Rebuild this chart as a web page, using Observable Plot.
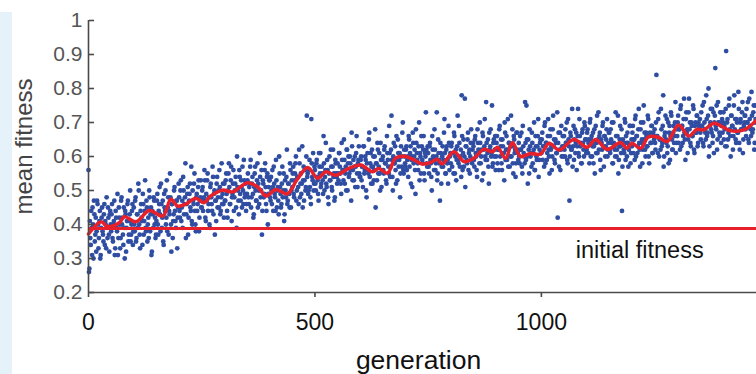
<!DOCTYPE html>
<html>
<head>
<meta charset="utf-8">
<script src="https://cdn.jsdelivr.net/npm/d3@7"></script>
<script src="https://cdn.jsdelivr.net/npm/@observablehq/plot@0.6"></script>
<style>
  html, body { margin: 0; padding: 0; background: #fff; }
  body { width: 756px; height: 374px; position: relative; overflow: hidden; }
  #strip { position: absolute; left: 0; top: 12px; width: 12px; height: 362px; background: #e6f2fa; }
  #chart { position: absolute; left: 0; top: 0; }
</style>
</head>
<body>
<div id="strip"></div>
<div id="chart"></div>
<script>
// ---- data ----
// population mean fitness, generations 0,2,4,... (even)
const fitnessEven = [
  0.56,0.27,0.36,0.44,0.31,0.40,0.47,0.35,0.42,0.38,0.46,0.33,0.41,0.30,0.39,0.45,0.37,0.43,0.34,0.40,0.48,0.36,0.42,0.32,0.44,
  0.38,0.46,0.35,0.41,0.31,0.44,0.39,0.49,0.36,0.42,0.33,0.47,0.40,0.37,0.45,0.30,0.43,0.39,0.46,0.35,0.41,0.50,0.37,0.44,0.34,
  0.45,0.38,0.48,0.36,0.43,0.52,0.40,0.33,0.46,0.41,0.49,0.37,0.44,0.39,0.47,0.35,0.42,0.50,0.38,0.45,0.32,0.43,0.48,0.40,0.36,
  0.41,0.49,0.37,0.46,0.43,0.52,0.39,0.47,0.34,0.45,0.50,0.42,0.38,0.48,0.44,0.55,0.40,0.46,0.36,0.43,0.51,0.41,0.47,0.33,0.45,
  0.48,0.42,0.53,0.45,0.39,0.50,0.46,0.58,0.43,0.49,0.37,0.47,0.52,0.44,0.41,0.50,0.46,0.55,0.40,0.48,0.44,0.51,0.38,0.47,0.53,
  0.45,0.51,0.47,0.56,0.42,0.49,0.53,0.44,0.48,0.39,0.52,0.46,0.57,0.43,0.50,0.47,0.41,0.54,0.48,0.45,0.51,0.44,0.58,0.49,0.46,
  0.52,0.47,0.55,0.44,0.50,0.58,0.46,0.53,0.41,0.49,0.56,0.48,0.52,0.45,0.60,0.50,0.43,0.54,0.47,0.51,0.57,0.46,0.53,0.49,0.44,
  0.49,0.55,0.46,0.52,0.59,0.48,0.54,0.42,0.51,0.57,0.47,0.53,0.45,0.50,0.61,0.48,0.56,0.44,0.52,0.49,0.58,0.46,0.54,0.40,0.51,
  0.53,0.47,0.50,0.56,0.44,0.52,0.48,0.59,0.45,0.51,0.43,0.55,0.49,0.46,0.57,0.50,0.41,0.53,0.48,0.62,0.47,0.52,0.45,0.56,0.50,
  0.51,0.57,0.48,0.55,0.60,0.50,0.54,0.46,0.58,0.52,0.49,0.63,0.53,0.47,0.56,0.51,0.72,0.55,0.50,0.59,0.48,0.71,0.54,0.61,0.52,
  0.56,0.50,0.59,0.53,0.47,0.57,0.61,0.52,0.55,0.49,0.58,0.54,0.64,0.51,0.56,0.46,0.60,0.53,0.57,0.50,0.62,0.55,0.48,0.58,0.54,
  0.58,0.53,0.61,0.55,0.49,0.59,0.56,0.65,0.52,0.57,0.62,0.50,0.60,0.55,0.58,0.47,0.63,0.56,0.53,0.60,0.57,0.66,0.51,0.59,0.55,
  0.54,0.60,0.57,0.51,0.63,0.56,0.59,0.48,0.61,0.55,0.67,0.58,0.52,0.62,0.57,0.53,0.60,0.45,0.58,0.64,0.55,0.61,0.50,0.59,0.56,
  0.60,0.55,0.63,0.58,0.52,0.61,0.57,0.69,0.54,0.62,0.59,0.50,0.64,0.58,0.56,0.66,0.53,0.61,0.59,0.48,0.63,0.57,0.70,0.55,0.60,
  0.57,0.63,0.59,0.54,0.65,0.61,0.52,0.60,0.67,0.58,0.62,0.49,0.64,0.59,0.56,0.70,0.61,0.55,0.63,0.58,0.66,0.53,0.60,0.62,0.57,
  0.61,0.55,0.64,0.58,0.50,0.62,0.59,0.68,0.56,0.60,0.53,0.65,0.58,0.47,0.61,0.57,0.63,0.59,0.71,0.55,0.62,0.58,0.52,0.64,0.60,
  0.58,0.64,0.61,0.55,0.66,0.60,0.53,0.63,0.59,0.69,0.57,0.62,0.78,0.56,0.65,0.60,0.51,0.63,0.58,0.67,0.61,0.55,0.64,0.59,0.62,
  0.63,0.57,0.66,0.60,0.54,0.64,0.61,0.70,0.58,0.62,0.67,0.55,0.63,0.60,0.76,0.59,0.65,0.52,0.62,0.68,0.61,0.57,0.64,0.60,0.66,
  0.60,0.66,0.62,0.56,0.69,0.63,0.58,0.65,0.61,0.53,0.67,0.62,0.59,0.71,0.64,0.57,0.63,0.60,0.68,0.55,0.65,0.62,0.58,0.67,0.61,
  0.64,0.58,0.62,0.67,0.55,0.63,0.60,0.76,0.59,0.65,0.52,0.62,0.68,0.60,0.57,0.64,0.61,0.70,0.56,0.63,0.59,0.66,0.54,0.62,0.65,
  0.61,0.67,0.63,0.57,0.70,0.64,0.59,0.66,0.62,0.55,0.68,0.63,0.60,0.72,0.65,0.58,0.64,0.61,0.42,0.67,0.62,0.56,0.69,0.63,0.60,
  0.66,0.60,0.64,0.70,0.58,0.65,0.47,0.67,0.62,0.74,0.63,0.59,0.68,0.64,0.56,0.66,0.61,0.71,0.63,0.58,0.67,0.64,0.60,0.69,0.65,
  0.62,0.68,0.64,0.58,0.71,0.65,0.60,0.67,0.63,0.55,0.69,0.64,0.61,0.73,0.66,0.59,0.65,0.62,0.70,0.57,0.66,0.63,0.68,0.60,0.64,
  0.67,0.61,0.65,0.70,0.58,0.64,0.62,0.73,0.60,0.66,0.55,0.63,0.69,0.61,0.44,0.65,0.62,0.71,0.59,0.64,0.67,0.57,0.63,0.69,0.61,
  0.63,0.69,0.65,0.59,0.72,0.66,0.61,0.68,0.64,0.57,0.70,0.65,0.62,0.75,0.67,0.60,0.66,0.63,0.71,0.58,0.67,0.64,0.69,0.61,0.66,
  0.68,0.62,0.84,0.66,0.71,0.60,0.65,0.74,0.63,0.69,0.57,0.66,0.72,0.64,0.61,0.70,0.67,0.59,0.73,0.65,0.62,0.69,0.66,0.76,0.64,
  0.66,0.72,0.68,0.62,0.75,0.69,0.64,0.71,0.67,0.59,0.73,0.68,0.65,0.77,0.70,0.63,0.69,0.66,0.74,0.61,0.70,0.67,0.72,0.64,0.69,
  0.71,0.65,0.69,0.75,0.63,0.70,0.67,0.78,0.66,0.72,0.60,0.69,0.74,0.67,0.64,0.73,0.70,0.86,0.68,0.62,0.76,0.70,0.66,0.73,0.69,
  0.67,0.73,0.69,0.63,0.91,0.70,0.65,0.75,0.68,0.60,0.72,0.69,0.66,0.78,0.71,0.64,0.70,0.67,0.74,0.62,0.71,0.68,0.76,0.65,0.70,
  0.72,0.66,0.70,0.76,0.64,0.71,0.68,0.79,0.67,0.73,0.62,0.70,0.75
];
// generations 1,3,5,... (odd)
const fitnessOdd = [
  0.26,0.41,0.34,0.39,0.45,0.30,0.43,0.37,0.32,0.47,0.40,0.36,0.44,0.31,0.42,0.38,0.35,0.46,0.41,0.33,0.39,0.45,0.37,0.43,0.40,
  0.43,0.36,0.40,0.47,0.33,0.42,0.38,0.31,0.45,0.40,0.36,0.48,0.42,0.34,0.39,0.44,0.32,0.41,0.47,0.37,0.43,0.35,0.40,0.46,0.38,
  0.40,0.47,0.35,0.43,0.39,0.50,0.37,0.44,0.42,0.34,0.46,0.41,0.53,0.38,0.45,0.40,0.36,0.48,0.43,0.31,0.44,0.39,0.47,0.42,0.37,
  0.47,0.40,0.44,0.51,0.38,0.46,0.42,0.35,0.49,0.44,0.40,0.53,0.45,0.37,0.43,0.48,0.32,0.46,0.41,0.50,0.44,0.39,0.47,0.42,0.52,
  0.44,0.50,0.41,0.47,0.54,0.43,0.48,0.36,0.46,0.51,0.42,0.49,0.45,0.57,0.40,0.47,0.52,0.44,0.38,0.49,0.46,0.53,0.42,0.48,0.45,
  0.50,0.44,0.48,0.53,0.41,0.47,0.55,0.46,0.40,0.51,0.48,0.44,0.54,0.49,0.37,0.47,0.52,0.45,0.50,0.56,0.43,0.48,0.46,0.52,0.42,
  0.47,0.53,0.49,0.42,0.55,0.51,0.46,0.57,0.48,0.52,0.44,0.50,0.54,0.39,0.51,0.47,0.56,0.49,0.53,0.45,0.50,0.59,0.48,0.52,0.46,
  0.53,0.48,0.51,0.57,0.45,0.52,0.49,0.43,0.55,0.50,0.47,0.58,0.52,0.46,0.54,0.50,0.37,0.53,0.48,0.56,0.51,0.44,0.55,0.49,0.53,
  0.48,0.54,0.46,0.51,0.57,0.49,0.44,0.53,0.50,0.47,0.60,0.51,0.45,0.52,0.48,0.55,0.43,0.50,0.54,0.46,0.52,0.49,0.58,0.45,0.53,
  0.55,0.49,0.53,0.58,0.47,0.54,0.51,0.62,0.48,0.55,0.52,0.45,0.57,0.53,0.50,0.60,0.54,0.49,0.56,0.51,0.46,0.58,0.53,0.50,0.57,
  0.52,0.58,0.54,0.49,0.61,0.55,0.51,0.57,0.53,0.66,0.50,0.56,0.52,0.59,0.48,0.55,0.53,0.62,0.51,0.57,0.54,0.47,0.59,0.55,0.52,
  0.55,0.61,0.57,0.52,0.64,0.56,0.53,0.59,0.55,0.50,0.62,0.58,0.54,0.60,0.56,0.67,0.53,0.59,0.57,0.51,0.61,0.55,0.58,0.63,0.54,
  0.59,0.53,0.57,0.63,0.55,0.60,0.50,0.58,0.56,0.65,0.54,0.61,0.57,0.52,0.60,0.56,0.68,0.58,0.53,0.62,0.57,0.55,0.64,0.51,0.59,
  0.56,0.62,0.58,0.53,0.66,0.59,0.55,0.61,0.57,0.72,0.54,0.60,0.58,0.63,0.52,0.59,0.65,0.57,0.61,0.55,0.60,0.67,0.56,0.62,0.58,
  0.62,0.56,0.60,0.66,0.57,0.63,0.59,0.51,0.64,0.60,0.56,0.68,0.61,0.58,0.63,0.53,0.60,0.66,0.59,0.62,0.55,0.61,0.73,0.58,0.63,
  0.57,0.63,0.59,0.54,0.66,0.60,0.56,0.62,0.58,0.73,0.55,0.61,0.59,0.64,0.52,0.60,0.57,0.67,0.61,0.55,0.63,0.59,0.69,0.56,0.61,
  0.63,0.57,0.61,0.67,0.55,0.62,0.59,0.72,0.58,0.64,0.60,0.54,0.66,0.61,0.57,0.77,0.63,0.59,0.65,0.56,0.62,0.60,0.68,0.58,0.64,
  0.59,0.65,0.61,0.56,0.68,0.62,0.58,0.64,0.60,0.53,0.66,0.62,0.71,0.59,0.64,0.61,0.57,0.67,0.63,0.60,0.75,0.58,0.65,0.62,0.56,
  0.64,0.58,0.62,0.68,0.60,0.65,0.56,0.63,0.61,0.70,0.59,0.66,0.62,0.57,0.64,0.60,0.72,0.63,0.58,0.66,0.61,0.54,0.67,0.62,0.59,
  0.60,0.66,0.62,0.57,0.69,0.61,0.58,0.64,0.75,0.60,0.65,0.55,0.63,0.61,0.67,0.58,0.62,0.56,0.66,0.60,0.63,0.71,0.59,0.64,0.61,
  0.65,0.59,0.63,0.69,0.58,0.64,0.61,0.71,0.60,0.66,0.62,0.56,0.68,0.63,0.59,0.65,0.61,0.73,0.64,0.57,0.67,0.62,0.60,0.66,0.63,
  0.62,0.68,0.64,0.59,0.71,0.63,0.60,0.66,0.62,0.57,0.69,0.65,0.61,0.67,0.63,0.74,0.60,0.66,0.64,0.58,0.68,0.62,0.70,0.65,0.61,
  0.67,0.61,0.65,0.70,0.60,0.66,0.63,0.58,0.68,0.64,0.61,0.72,0.65,0.62,0.67,0.56,0.64,0.69,0.63,0.66,0.60,0.65,0.71,0.62,0.67,
  0.62,0.68,0.64,0.58,0.70,0.63,0.60,0.66,0.62,0.72,0.59,0.65,0.63,0.68,0.57,0.64,0.61,0.70,0.66,0.60,0.64,0.62,0.69,0.58,0.65,
  0.67,0.61,0.65,0.71,0.60,0.66,0.63,0.74,0.62,0.68,0.64,0.58,0.70,0.65,0.62,0.67,0.63,0.72,0.60,0.66,0.64,0.69,0.61,0.67,0.65,
  0.64,0.70,0.66,0.61,0.73,0.65,0.62,0.68,0.64,0.78,0.60,0.67,0.65,0.71,0.63,0.58,0.69,0.66,0.72,0.62,0.67,0.64,0.70,0.61,0.68,
  0.70,0.64,0.68,0.74,0.63,0.69,0.66,0.77,0.65,0.71,0.67,0.61,0.73,0.68,0.64,0.70,0.66,0.75,0.62,0.69,0.67,0.72,0.63,0.70,0.68,
  0.67,0.73,0.69,0.64,0.76,0.68,0.65,0.71,0.67,0.80,0.63,0.70,0.68,0.74,0.66,0.61,0.72,0.69,0.75,0.65,0.70,0.67,0.73,0.64,0.71,
  0.70,0.65,0.68,0.74,0.63,0.71,0.67,0.77,0.66,0.72,0.69,0.62,0.75,0.68,0.65,0.71,0.67,0.79,0.64,0.70,0.68,0.73,0.61,0.69,0.72,
  0.68,0.74,0.70,0.65,0.77,0.69,0.66,0.72,0.68,0.75,0.64,0.71
];

// running mean (red curve)
const avgGen = [0,28,42,68,79,105,134,164,182,197,215,237,255,270,296,318,351,373,392,414,439,461,484,506,524,546,575,601,627,641,660,678,700,719,737,755,770,781,807,829,851,873,892,903,921,936,954,976,998,1017,1039,1072,1101,1120,1145,1175,1189,1200,1219,1237,1259,1278,1303,1325,1344,1358,1381,1399,1417,1447,1475];
const avgFit = [0.372,0.408,0.394,0.405,0.423,0.408,0.441,0.425,0.474,0.454,0.46,0.477,0.464,0.484,0.501,0.496,0.523,0.511,0.484,0.503,0.49,0.533,0.568,0.536,0.555,0.545,0.565,0.575,0.555,0.565,0.551,0.595,0.6,0.59,0.578,0.582,0.592,0.578,0.614,0.585,0.595,0.621,0.614,0.627,0.595,0.641,0.6,0.609,0.607,0.639,0.619,0.65,0.627,0.65,0.621,0.641,0.624,0.639,0.624,0.658,0.656,0.644,0.693,0.66,0.68,0.678,0.698,0.688,0.676,0.678,0.707];

const initialFitness = 0.388;
const labelGen = 1217;
const xDomain = [0, 1475];
const yDomain = [0.2, 1];
const xTicks = [0, 500, 1000];
const yTicks = [0.2, 0.3, 0.4, 0.5, 0.6, 0.7, 0.8, 0.9, 1];

// ---- build tables ----
const points = [
  ...fitnessEven.map((f, i) => ({gen: 2 * i, fit: f})),
  ...fitnessOdd.map((f, i) => ({gen: 2 * i + 1, fit: f}))
];
const avg = avgGen.map((g, i) => ({gen: g, fit: avgFit[i]}));

const red = "#e8202a";
const blue = "#2f4da2";
const axisCol = "#4a4a4a";

const chart = Plot.plot({
  width: 756,
  height: 374,
  marginTop: 20,
  marginBottom: 82,
  marginLeft: 88,
  marginRight: 0,
  style: {fontFamily: "'Liberation Sans', Arial, Helvetica, sans-serif", background: "transparent", overflow: "visible"},
  x: {domain: xDomain},
  y: {domain: yDomain},
  marks: [
    Plot.dot(points, {x: "gen", y: "fit", r: 2.4, fill: blue, stroke: "none"}),
    Plot.ruleY([initialFitness], {stroke: red, strokeWidth: 3}),
    Plot.line(avg, {x: "gen", y: "fit", stroke: red, strokeWidth: 3.5, curve: "catmull-rom"}),
    Plot.ruleX([xDomain[0]], {stroke: axisCol, strokeWidth: 1.6}),
    Plot.ruleY([yDomain[0]], {stroke: axisCol, strokeWidth: 1.6}),
    Plot.axisY(yTicks, {tickSize: 0, tickPadding: 6, fontSize: 21, color: "#555", tickFormat: d => String(d), label: null}),
    Plot.axisY(yTicks, {anchor: "right", frameAnchor: "left", tickSize: 5, text: null, label: null, stroke: axisCol, strokeWidth: 1.6}),
    Plot.axisX(xTicks, {tickSize: 5, tickPadding: 16, fontSize: 23, color: "#111", stroke: axisCol, strokeWidth: 1.6, tickFormat: d => String(d), label: null}),
    Plot.text(["mean fitness"], {frameAnchor: "left", dx: -64, dy: -10, rotate: -90, fontSize: 24, fill: "#444", textAnchor: "middle"}),
    Plot.text(["generation"], {frameAnchor: "bottom", dx: -4, dy: 76, lineAnchor: "bottom", fontSize: 26.5, fill: "#111", textAnchor: "middle"}),
    Plot.text(["initial fitness"], {x: labelGen, y: initialFitness, dy: 22, lineAnchor: "middle", fontSize: 23.5, fill: "#111", textAnchor: "middle"})
  ]
});
document.getElementById("chart").appendChild(chart);
</script>
</body>
</html>
